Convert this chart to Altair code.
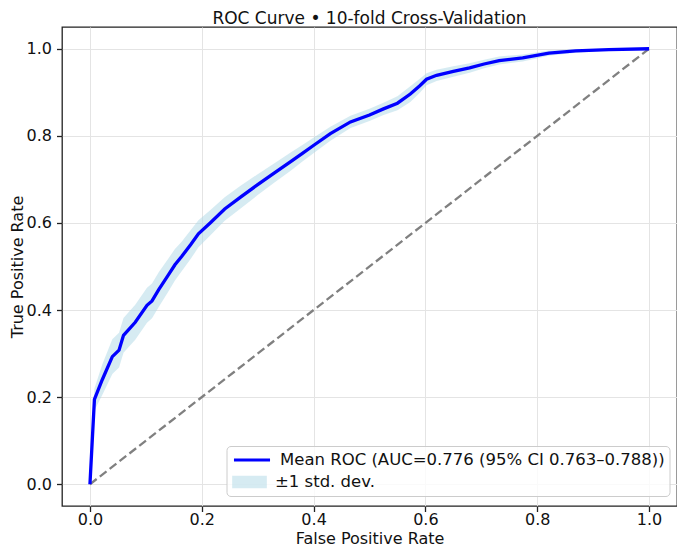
import altair as alt
import pandas as pd
import numpy as np

# Mean ROC curve
fpr_mean = [0.0, 0.008, 0.022, 0.040, 0.052, 0.060, 0.081, 0.102, 0.111, 0.123,
            0.140, 0.152, 0.164, 0.180, 0.194, 0.215, 0.241, 0.270, 0.300, 0.330,
            0.359, 0.380, 0.401, 0.430, 0.466, 0.500, 0.525, 0.550, 0.573, 0.590,
            0.602, 0.620, 0.650, 0.679, 0.705, 0.732, 0.774, 0.821, 0.869, 0.928, 1.0]
tpr_mean = [0.0, 0.195, 0.240, 0.293, 0.308, 0.342, 0.372, 0.411, 0.421, 0.447,
            0.480, 0.504, 0.523, 0.550, 0.575, 0.600, 0.632, 0.660, 0.688, 0.715,
            0.741, 0.760, 0.779, 0.805, 0.832, 0.848, 0.862, 0.875, 0.896, 0.915,
            0.930, 0.939, 0.948, 0.956, 0.965, 0.973, 0.979, 0.990, 0.995, 0.998, 1.0]
tpr_std = [0.0, 0.025, 0.035, 0.040, 0.040, 0.040, 0.040, 0.040, 0.040, 0.040,
           0.038, 0.036, 0.034, 0.033, 0.031, 0.029, 0.027, 0.026, 0.024, 0.022,
           0.021, 0.019, 0.018, 0.016, 0.014, 0.014, 0.014, 0.016, 0.018, 0.016,
           0.014, 0.013, 0.012, 0.011, 0.010, 0.009, 0.008, 0.006, 0.004, 0.002, 0.0]

chance_x = [0.0, 1.0]
chance_y = [0.0, 1.0]

tick_values = [0.0, 0.2, 0.4, 0.6, 0.8, 1.0]

line_label = "Mean ROC (AUC=0.776 (95% CI 0.763\u20130.788))"
band_label = "\u00b11 std. dev."
title_text = "ROC Curve \u2022 10-fold Cross-Validation"

mean_arr = np.array(tpr_mean)
std_arr = np.array(tpr_std)
df = pd.DataFrame({
    "fpr": fpr_mean,
    "tpr": tpr_mean,
    "lo": np.maximum(mean_arr - std_arr, 0.0),
    "hi": np.minimum(mean_arr + std_arr, 1.0),
    "line_series": line_label,
    "band_series": band_label,
})
diag_df = pd.DataFrame({"fpr": chance_x, "tpr": chance_y})

FONT = "DejaVu Sans"
W, H = 615, 479

x_scale = alt.Scale(domain=[-0.05, 1.05], nice=False, zero=False)
y_scale = alt.Scale(domain=[-0.05, 1.05], nice=False, zero=False)

x_axis = alt.Axis(values=tick_values, format=".1f", title="False Positive Rate")
y_axis = alt.Axis(values=tick_values, format=".1f", title="True Positive Rate",
                  titleX=-53, titleBaseline="top", titleAngle=270)

legend_common = dict(
    title=None, orient="none", labelFontSize=16.5, labelFont=FONT,
    labelColor="#111111", labelOffset=8, labelLimit=600, clipHeight=20, padding=0,
)

band = alt.Chart(df).mark_area(opacity=0.5).encode(
    x=alt.X("fpr:Q", scale=x_scale, axis=x_axis),
    y=alt.Y("lo:Q", scale=y_scale, axis=y_axis),
    y2="hi:Q",
    fill=alt.Fill(
        "band_series:N",
        scale=alt.Scale(domain=[band_label], range=["#add8e6"]),
        legend=alt.Legend(
            legendX=170, legendY=445,
            symbolType="M-1,-0.36L1,-0.36L1,0.36L-1,0.36Z",
            symbolSize=1200, symbolOpacity=0.5, symbolStrokeWidth=0,
            **legend_common,
        ),
    ),
)

diag = alt.Chart(diag_df).mark_line(
    color="#808080", strokeWidth=2.3, strokeDash=[8.5, 4]
).encode(x=alt.X("fpr:Q", scale=x_scale), y=alt.Y("tpr:Q", scale=y_scale))

line = alt.Chart(df).mark_line(strokeWidth=3.3).encode(
    x=alt.X("fpr:Q", scale=x_scale),
    y=alt.Y("tpr:Q", scale=y_scale),
    stroke=alt.Stroke(
        "line_series:N",
        scale=alt.Scale(domain=[line_label], range=["#0000ff"]),
        legend=alt.Legend(
            legendX=170, legendY=423,
            symbolType="stroke", symbolSize=1300, symbolStrokeWidth=3.2,
            **legend_common,
        ),
    ),
)

legend_box = alt.Chart(pd.DataFrame({"k": [0]})).mark_rect(
    fill="white", fillOpacity=0.8, stroke="#cccccc", strokeWidth=1, cornerRadius=4
).encode(
    x=alt.value(165), x2=alt.value(608), y=alt.value(419.5), y2=alt.value(469.5)
)

chart = alt.layer(band, diag, line, legend_box).resolve_scale(
    fill="independent", stroke="independent"
).properties(
    width=W,
    height=H,
    title=alt.TitleParams(title_text, fontSize=17, font=FONT, fontWeight="normal",
                          color="#111111", anchor="middle", offset=-1),
    padding={"left": 54, "top": 19, "right": 0, "bottom": 41},
    autosize=alt.AutoSizeParams(type="none"),
).configure_view(
    stroke="#222222", strokeWidth=1.3
).configure_axis(
    labelFont=FONT, labelFontSize=16, labelColor="#111111",
    titleFont=FONT, titleFontSize=16, titleFontWeight="normal", titleColor="#111111",
    tickColor="#222222", tickSize=5.5, tickWidth=1.3,
    domain=False, grid=True, gridColor="#e4e4e4", gridWidth=1,
).configure_axisX(labelPadding=0, titlePadding=2.5).configure_axisY(labelPadding=5)

chart.save("out.html", embed_options={"renderer": "svg", "actions": False})
